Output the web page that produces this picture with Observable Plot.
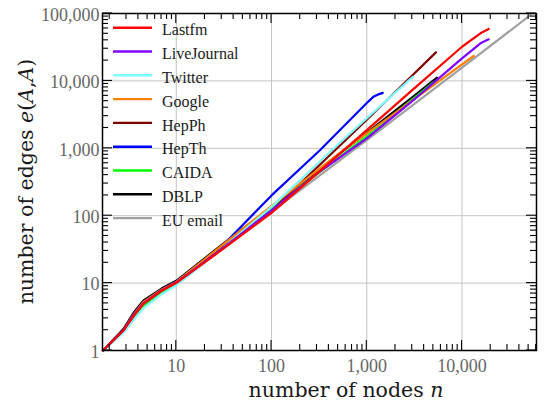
<!DOCTYPE html>
<html><head><meta charset="utf-8">
<script src="https://cdn.jsdelivr.net/npm/d3@7"></script>
<script src="https://cdn.jsdelivr.net/npm/@observablehq/plot@0.6"></script>
<style>html,body{margin:0;padding:0;background:#fff;}</style>
</head><body><div id="chart"></div>
<script>
// ---- data ----
const seriesNames = ["Lastfm","LiveJournal","Twitter","Google","HepPh","HepTh","CAIDA","DBLP","EU email"];
const seriesColors = ["#ff0000","#8000ff","#80ffff","#ff8000","#800000","#0000ff","#00ff00","#000000","#a0a0a0"];

// [n, e] pairs
const lastfm = [[1.7,1],[2.8,2.0],[3.6,3.3],[4.5,4.9],[7,7.7],[10,10.1],[30,31],[100,110],[300,420],[1000,1860],[3000,7300],[10000,32100],[15600,50800],[19060,58900]];
const liveJournal = [[1.7,1],[2.8,2.0],[3.6,3.4],[4.5,5.0],[7,7.8],[10,10.2],[30,32],[100,120],[300,420],[1000,1400],[3000,5000],[10000,21600],[15600,36100],[19060,41400]];
const twitter = [[1.7,1],[2.8,1.85],[3.6,2.9],[4.5,4.2],[7,6.8],[10,9.3],[30,32],[100,135],[428,937],[1000,2800],[3050,11500]];
const google = [[1.7,1],[2.8,2.0],[3.6,3.5],[4.5,5.2],[7,8.0],[10,10.4],[30,36],[100,140],[568,937],[1000,1670],[3000,5100],[10000,17600],[13250,23400]];
const hepPh = [[1.7,1],[2.8,2.0],[3.6,3.4],[4.5,5.1],[7,7.9],[10,10.2],[30,33],[100,118],[464,937],[1000,2650],[3000,12000],[5320,26500]];
const hepTh = [[1.7,1],[2.8,2.0],[3.6,3.5],[4.5,5.2],[7,8.0],[10,10.5],[30,35],[100,200],[322,937],[1000,4700],[1170,5800],[1300,6250],[1470,6650]];
const caida = [[1.7,1],[2.8,1.95],[3.6,3.2],[4.5,4.7],[7,7.4],[10,9.9],[30,33],[100,128],[1000,1500],[5000,9500]];
const dblp = [[1.7,1],[2.8,2.1],[3.6,3.7],[4.5,5.5],[7,8.3],[10,10.8],[30,37],[100,135],[568,920],[1000,1700],[3000,5700],[5460,11200]];
const euEmail = [[1.7,1],[2.8,1.9],[3.6,3.0],[4.5,4.4],[7,7.0],[10,9.5],[30,32],[100,115],[1000,1320],[10000,15800],[52400,95000]];
const seriesPoints = [lastfm, liveJournal, twitter, google, hepPh, hepTh, caida, dblp, euEmail];

const xTickValues = [10, 100, 1000, 10000];
const yTickValues = [1, 10, 100, 1000, 10000, 100000];
const xDomain = [1.68, 60500];
const yDomain = [1, 100000];

// ---- layout ----
const W = 544, H = 412, mL = 102, mR = 8, mT = 13, mB = 62;
const rows = seriesNames.map((name, i) => seriesPoints[i].map(([n, e]) => ({name, n, e})));
const fmt = d3.format(",");

function minorTicks(domain) {
  const out = [];
  for (let p = Math.floor(Math.log10(domain[0])); p <= Math.ceil(Math.log10(domain[1])); p++)
    for (let k = 2; k <= 9; k++) { const v = k * 10 ** p; if (v >= domain[0] && v <= domain[1]) out.push(v); }
  return out;
}
const xMinor = minorTicks(xDomain);
const yMinor = minorTicks(yDomain);

// draws legend + inward frame ticks (every element styled explicitly)
function legendAndTicks(index, scales, values, dim) {
  const g = d3.create("svg:g").attr("text-anchor", "start");
  const L = dim.marginLeft, R = dim.width - dim.marginRight, T = dim.marginTop, B = dim.height - dim.marginBottom;
  const sx = typeof scales.x === "function" ? scales.x : d3.scaleLog(xDomain, [L, R]);
  const sy = typeof scales.y === "function" ? scales.y : d3.scaleLog(yDomain, [B, T]);
  const seg = (x1, y1, x2, y2) => g.append("line").attr("x1", x1).attr("y1", y1).attr("x2", x2).attr("y2", y2)
    .attr("stroke", "#000000").attr("stroke-width", 1.1);
  for (const [vals, len] of [[xTickValues, 10], [xMinor, 6]])
    for (const v of vals) { const p = sx(v); seg(p, B, p, B - len); seg(p, T, p, T + len); }
  for (const [vals, len] of [[yTickValues, 10], [yMinor, 6]])
    for (const v of vals) { const p = sy(v); seg(L, p, L + len, p); seg(R, p, R - len, p); }
  seriesNames.forEach((name, i) => {
    const yy = T + 14.7 + i * 23.8;
    g.append("line").attr("x1", L + 11).attr("x2", L + 50)
      .attr("y1", yy).attr("y2", yy).attr("stroke", seriesColors[i]).attr("stroke-width", 2.4);
    g.append("text").attr("x", L + 60).attr("y", yy + 7.6).attr("text-anchor", "start")
      .attr("font-family", "'Liberation Serif', serif").attr("font-size", 16).attr("fill", "#1a1a1a")
      .text(name);
  });
  return g.node();
}

function axisLabels(index, scales, values, dim) {
  const g = d3.create("svg:g").attr("font-family", "'DejaVu Serif', serif").attr("font-size", 20.5).attr("fill", "#1a1a1a");
  const xl = g.append("text").attr("x", 346).attr("y", 397).attr("text-anchor", "middle");
  xl.append("tspan").text("number of nodes ");
  xl.append("tspan").attr("font-style", "italic").text("n");
  const cy = (dim.marginTop + dim.height - dim.marginBottom) / 2;
  const yl = g.append("text").attr("transform", `translate(33,${cy}) rotate(-90)`).attr("text-anchor", "middle");
  yl.append("tspan").text("number of edges ");
  yl.append("tspan").attr("font-style", "italic").text("e");
  yl.append("tspan").text("(");
  yl.append("tspan").attr("font-style", "italic").text("A");
  yl.append("tspan").text(",");
  yl.append("tspan").attr("font-style", "italic").text("A");
  yl.append("tspan").text(")");
  return g.node();
}

const lineMarks = seriesNames.map((name, i) => i).reverse().map(i =>
  Plot.line(rows[i], {x: "n", y: "e", stroke: seriesColors[i], strokeWidth: 2.2, strokeLinejoin: "round"}));

const chart = Plot.plot({
  width: W, height: H,
  marginLeft: mL, marginRight: mR, marginTop: mT, marginBottom: mB,
  style: {fontFamily: "'Liberation Serif', serif", background: "#fff"},
  x: {type: "log", domain: xDomain, axis: null},
  y: {type: "log", domain: yDomain, axis: null},
  marks: [
    Plot.ruleX(xTickValues, {x: d => d, stroke: "#c4c4c4", strokeWidth: 1}),
    Plot.ruleY(yTickValues, {y: d => d, stroke: "#c4c4c4", strokeWidth: 1}),
    ...lineMarks,
    legendAndTicks,
    Plot.frame({stroke: "#000", strokeWidth: 1.5}),
    Plot.text(xTickValues, {x: d => d, frameAnchor: "bottom", dy: 21, text: d => fmt(d), fontSize: 18, fill: "#666"}),
    Plot.text(yTickValues, {y: d => d, frameAnchor: "left", dx: -3, dy: 1.5, textAnchor: "end", text: d => fmt(d), fontSize: 18, fill: "#666"}),
    axisLabels
  ]
});
document.getElementById("chart").append(chart);
</script>
</body></html>
